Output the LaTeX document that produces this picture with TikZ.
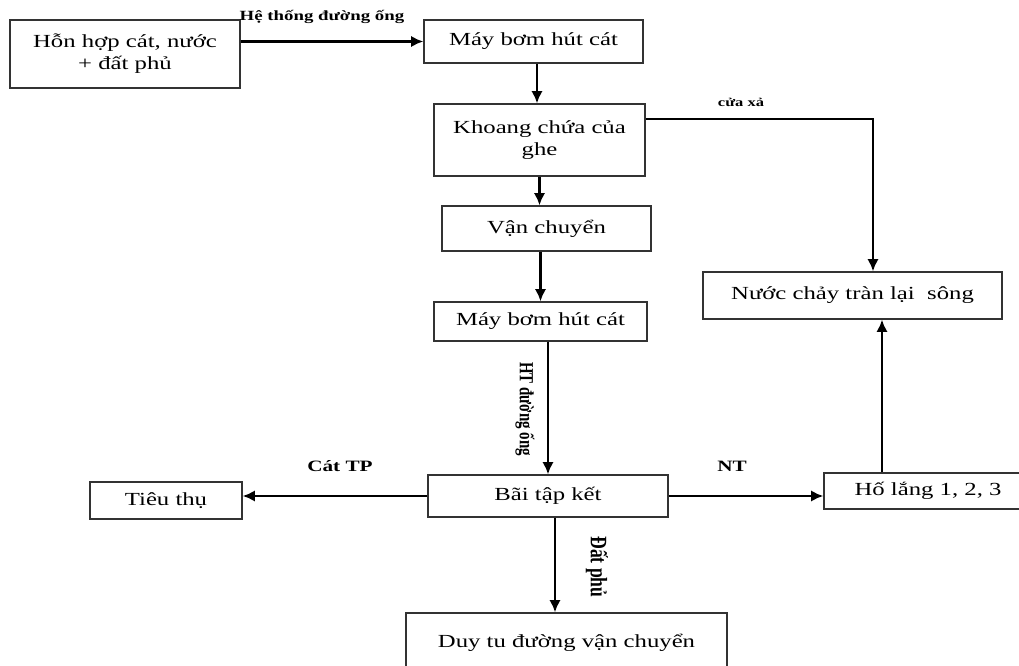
\documentclass[tikz,border=0pt]{standalone}
\usepackage{fontspec}
\setmainfont[FakeStretch=1.34]{Liberation Serif}
\newfontfamily\plainserif{Liberation Serif}
\usetikzlibrary{arrows.meta}

\begin{document}
\begin{tikzpicture}[
        x=0.02cm, y=-0.02cm,
        box/.style={draw=black!80, line width=0.7pt, align=center, inner sep=0pt,
            font=\fontsize{10.5}{12.5}\selectfont},
        arrow/.style={-{Latex[length=7pt,width=6.5pt]}, line width=1.5pt},
        lbl/.style={font=\fontsize{9}{10}\selectfont\bfseries},
        vlbl/.style={font=\plainserif\fontsize{8.5}{10}\selectfont\bfseries, rotate=-90}
    ]
        \useasboundingbox (0,0) rectangle (1019,666);
        \clip (0,0) rectangle (1019,666);
        \fill[white] (0,0) rectangle (1019,666);

        \node[box, minimum width=230*0.02cm, minimum height=68*0.02cm] (mix) at (125,54) {Hỗn hợp cát, nước\\+ đất phủ};
        \node[box, minimum width=219*0.02cm, minimum height=43*0.02cm] (pump1) at (533.5,41.5) {Máy bơm hút cát};
        \node[box, minimum width=211*0.02cm, minimum height=72*0.02cm] (hold) at (539.5,140) {Khoang chứa của\\ghe};
        \node[box, minimum width=209*0.02cm, minimum height=45*0.02cm] (ship) at (546.5,228.5) {Vận chuyển};
        \node[box, minimum width=213*0.02cm, minimum height=39*0.02cm] (pump2) at (540.5,321.5) {Máy bơm hút cát};
        \node[box, minimum width=240*0.02cm, minimum height=42*0.02cm] (yard) at (548,496) {Bãi tập kết};
        \node[box, minimum width=152*0.02cm, minimum height=37*0.02cm] (use) at (166,500.5) {Tiêu thụ};
        \node[box, minimum width=208*0.02cm, minimum height=36*0.02cm] (pond) at (928,491) {Hố lắng 1, 2, 3};
        \node[box, minimum width=299*0.02cm, minimum height=47*0.02cm] (river) at (852.5,295.5) {Nước chảy tràn lại\ \ sông};
        \node[box, minimum width=321*0.02cm, minimum height=60*0.02cm] (road) at (566.5,643) {Duy tu đường vận chuyển};

        \coordinate (outlet) at (873,119);
        \coordinate (pipe1) at (537,0);
        \coordinate (pipe2) at (555,0);
        \coordinate (back) at (882,0);

        \draw[arrow] (mix.east |- pump1.west) -- (pump1.west);
        \draw[arrow] (pipe1 |- pump1.south) -- (pipe1 |- hold.north);
        \draw[arrow] (hold.south) -- (hold.south |- ship.north);
        \draw[arrow] (ship.south -| pump2.north) -- (pump2.north);
        \draw[arrow] (pump2.south -| yard.north) -- (yard.north);
        \draw[arrow] (yard.west) -- (yard.west -| use.east);
        \draw[arrow] (yard.east) -- (yard.east -| pond.west);
        \draw[arrow] (pipe2 |- yard.south) -- (pipe2 |- road.north);
        \draw[arrow] (back |- pond.north) -- (back |- river.south);
        \draw[arrow] (hold.east |- outlet) -- (outlet) -- (outlet |- river.north);

        \node[font=\fontsize{8}{9}\selectfont\bfseries] (pipelbl) at (322,17) {Hệ thống đường ống};
        \node[font=\fontsize{7}{8}\selectfont\bfseries] (outletlbl) at (741,102) {cửa xả};
        \node[vlbl] (htlbl) at (525,409) {\scalebox{1}[1.34]{HT đường ống}};
        \node[lbl] (sandlbl) at (340,466) {Cát TP};
        \node[lbl] (ntlbl) at (732,466) {NT};
        \node[vlbl, font=\plainserif\fontsize{10}{11}\selectfont\bfseries] (soillbl) at (597,567) {\scalebox{1}[1.34]{Đất phủ}};
    \end{tikzpicture}
\end{document}
